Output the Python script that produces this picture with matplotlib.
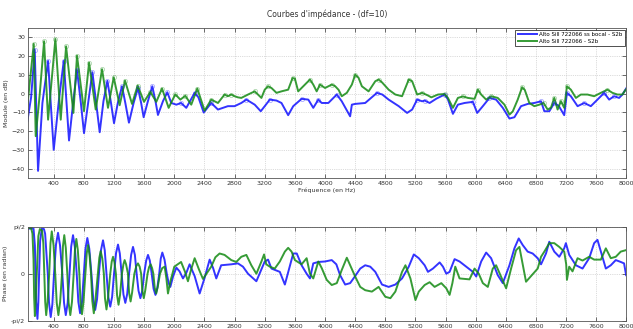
import numpy as np
import matplotlib
matplotlib.use("Agg")
import matplotlib.pyplot as plt

# module (dB) - sans bocal (blue)
freq_mod_blue = [50, 100, 148, 170, 192, 250, 325, 360, 400, 470, 533, 570, 603, 660, 709, 760, 802, 860,
                 913, 960, 1010, 1060, 1112, 1160, 1200, 1250, 1306, 1350, 1398, 1460, 1518, 1560, 1593,
                 1650, 1708, 1750, 1783, 1850, 1907, 1960, 2027, 2090, 2159, 2270, 2320, 2390, 2490,
                 2579, 2667, 2711, 2800, 2889, 2956, 3010, 3067, 3147, 3200, 3267, 3356, 3422, 3511,
                 3578, 3689, 3778, 3844, 3911, 3956, 4044, 4156, 4222, 4333, 4356, 4400, 4533, 4689,
                 4760, 4844, 4978, 5089, 5156, 5222, 5289, 5322, 5388, 5477, 5587, 5630, 5697, 5763,
                 5851, 5962, 6019, 6094, 6182, 6270, 6359, 6447, 6513, 6601, 6690, 6777, 6866, 6910,
                 6976, 7042, 7100, 7174, 7210, 7262, 7351, 7439, 7527, 7615, 7704, 7770, 7836, 7902,
                 7946, 8000]
db_blue = [-14.7, -2.0, 23.4, -10.0, -41.2, -5.0, 17.4, -5.0, -30.0, -3.0, 17.4, -5.0, -25.0, -4.0, 12.6,
           -5.0, -21.1, -4.0, 11.4, -4.0, -20.6, -4.0, 6.8, -5.0, -15.8, -5.0, 3.9, -5.0, -15.5, -5.0,
           3.0, -5.0, -12.6, -4.0, 3.9, -4.0, -11.4, -4.0, 0.7, -5.0, -5.9, -5.0, -7.6, 0.4, -2.0,
           -10.1, -5.0, -8.5, -7.3, -6.7, -6.7, -5.0, -3.2, -4.5, -5.9, -9.4, -6.7, -3.2, -3.7,
           -5.0, -11.5, -6.7, -2.8, -3.2, -7.6, -3.2, -5.0, -5.0, -0.5, -4.1, -12.1, -5.9, -5.5,
           -5.0, 0.4, -0.5, -3.2, -6.7, -10.3, -8.5, -3.2, -4.1, -3.7, -5.0, -2.7, -0.5, -3.0,
           -10.8, -5.9, -5.0, -4.4, -10.3, -6.7, -2.3, -3.2, -7.6, -13.3, -12.6, -6.7, -5.5, -5.0,
           -4.1, -9.4, -9.4, -5.0, -6.5, -11.5, 0.4, -1.4, -6.7, -5.0, -6.7, -3.2, 0.4, -3.2,
           -1.4, -2.3, -0.5, 3.0]

# module (dB) - avec bocal (green)
freq_mod_green = [50, 135, 161, 214, 272, 325, 422, 493, 564, 661, 709, 802, 869, 957, 1041, 1120,
                  1196, 1275, 1346, 1439, 1514, 1598, 1682, 1761, 1837, 1925, 2013, 2080, 2146,
                  2225, 2305, 2402, 2490, 2579, 2667, 2711, 2756, 2800, 2844, 2889, 2978, 3067,
                  3133, 3156, 3200, 3244, 3289, 3356, 3422, 3511, 3569, 3600, 3644, 3711, 3800,
                  3844, 3889, 3933, 4000, 4089, 4133, 4180, 4222, 4289, 4356, 4400, 4444, 4489,
                  4578, 4667, 4711, 4756, 4844, 4933, 5022, 5111, 5156, 5222, 5289, 5366, 5410,
                  5499, 5587, 5631, 5697, 5763, 5830, 5895, 5984, 6028, 6072, 6138, 6204, 6292,
                  6381, 6447, 6491, 6557, 6615, 6650, 6711, 6777, 6844, 6900, 6954, 6998, 7042,
                  7086, 7130, 7174, 7210, 7262, 7329, 7395, 7483, 7571, 7660, 7748, 7814, 7880,
                  7946, 7990]
db_green = [-6.7, 26.5, -22.7, -0.5, 27.9, -13.9, 29.1, -13.9, 25.2, -10.3, 20.2, -9.4, 16.5, -8.5,
            13.0, -7.6, 8.7, -6.2, 6.9, -5.5, 4.3, -4.4, 0.9, -4.4, 2.7, -7.6, -0.4, -3.2, -1.2,
            -5.9, 2.7, -9.1, -3.2, -5.0, -0.5, -1.4, -0.5, -1.4, -2.0, -2.3, -0.5, 1.2, -1.4,
            -2.3, 2.1, 3.9, 3.0, 0.4, 1.2, 2.1, 8.3, 8.0, 1.2, 3.9, 7.5, 4.8, 1.2, 4.8, 3.0, 4.8,
            4.0, 2.0, -1.4, 0.4, 4.8, 10.1, 8.5, 3.9, 1.2, 6.6, 7.5, 6.0, 2.1, -0.5, -1.4, 7.5,
            6.6, -0.5, 0.4, -1.0, -2.0, -0.5, -0.2, -2.3, -7.6, -2.3, -1.5, -2.3, -2.8, 2.1,
            -0.5, -3.2, -1.4, -2.3, -5.9, -11.2, -9.5, -3.2, 3.4, 2.0, -5.0, -6.7, -5.9, -5.0,
            -8.5, -7.5, -2.3, -8.5, -4.0, -7.6, 3.9, 2.1, -2.3, -0.5, -0.5, -1.4, 0.4, 2.1,
            0.4, -0.5, -0.5, 2.1]

# phase (in units of pi/2)
freq_ph_blue = [50, 132, 150, 158, 166, 184, 196, 206, 220, 242, 270, 286, 305, 321, 337, 360, 382,
                404, 430, 457, 484, 514, 537, 560, 585, 610, 632, 656, 680, 705, 727, 750, 775,
                800, 822, 846, 872, 900, 925, 950, 975, 1000, 1027, 1054, 1077, 1100, 1125, 1150,
                1175, 1200, 1227, 1253, 1277, 1300, 1325, 1350, 1375, 1400, 1427, 1452, 1477,
                1500, 1525, 1550, 1575, 1600, 1627, 1651, 1675, 1700, 1725, 1750, 1775, 1800,
                1820, 1841, 1870, 1900, 1925, 1947, 1985, 2027, 2070, 2115, 2160, 2203, 2270,
                2336, 2400, 2469, 2515, 2557, 2622, 2756, 2844, 2911, 2978, 3089, 3200, 3244,
                3289, 3400, 3467, 3578, 3625, 3689, 3756, 3800, 3844, 3911, 4000, 4089, 4150,
                4200, 4267, 4333, 4400, 4467, 4533, 4600, 4667, 4756, 4844, 4933, 5022, 5111,
                5178, 5244, 5322, 5366, 5432, 5521, 5565, 5609, 5653, 5719, 5785, 5873, 5962,
                6006, 6072, 6138, 6204, 6292, 6359, 6447, 6513, 6570, 6623, 6689, 6755, 6822,
                6866, 6932, 6976, 7042, 7108, 7174, 7196, 7240, 7329, 7417, 7505, 7571, 7615,
                7660, 7726, 7792, 7858, 7924, 7968, 7995]
ph_blue = [0.96, 0.96, 0.6, 0.0, -0.6, -0.96, -0.6, 0.0, 0.7, 0.96, 0.95, 0.85, 0.4, 0.0, -0.6,
           -0.92, -0.65, 0.0, 0.62, 0.87, 0.6, 0.0, -0.62, -0.88, -0.62, 0.0, 0.58, 0.82, 0.57,
           0.0, -0.6, -0.84, -0.6, 0.0, 0.54, 0.76, 0.53, 0.0, -0.55, -0.77, -0.54, 0.0, 0.5,
           0.71, 0.5, 0.0, -0.5, -0.70, -0.49, 0.0, 0.44, 0.62, 0.43, 0.0, -0.44, -0.62, -0.43,
           0.0, 0.4, 0.57, 0.4, 0.0, -0.36, -0.52, -0.36, 0.0, 0.28, 0.40, 0.28, 0.0, -0.32,
           -0.45, -0.3, 0.0, 0.32, 0.45, 0.3, 0.0, -0.2, -0.28, -0.05, 0.13, 0.05, -0.10, 0.02,
           0.2, -0.05, -0.42, -0.1, 0.3, 0.12, -0.10, 0.18, 0.2, 0.22, 0.15, 0.0, -0.16, 0.26,
           0.30, 0.11, 0.04, -0.23, 0.43, 0.43, 0.18, 0.0, -0.10, 0.22, 0.25, 0.26, 0.29, 0.2,
           -0.03, -0.23, -0.2, -0.05, 0.11, 0.18, 0.15, 0.04, -0.23, -0.28, -0.23, -0.10, 0.15,
           0.41, 0.33, 0.18, 0.04, 0.11, 0.24, 0.15, 0.0, 0.04, 0.31, 0.26, 0.15, 0.04, -0.06,
           0.26, 0.45, 0.33, -0.03, -0.2, 0.18, 0.54, 0.75, 0.61, 0.47, 0.43, 0.33, 0.2, 0.43,
           0.68, 0.47, 0.36, 0.54, 0.65, 0.4, 0.18, 0.11, 0.33, 0.65, 0.72, 0.47, 0.11, 0.18,
           0.29, 0.25, 0.22, -0.03]

freq_ph_green = [50, 100, 118, 132, 140, 150, 162, 180, 196, 216, 245, 262, 275, 287, 300, 318, 340,
                 357, 374, 398, 420, 440, 462, 485, 510, 522, 540, 560, 580, 598, 620, 642, 665,
                 682, 700, 720, 740, 755, 775, 795, 820, 838, 855, 875, 895, 912, 932, 952, 985,
                 1005, 1023, 1045, 1065, 1080, 1100, 1120, 1150, 1170, 1187, 1205, 1225, 1240,
                 1260, 1280, 1305, 1325, 1341, 1360, 1385, 1400, 1420, 1440, 1470, 1495, 1518,
                 1540, 1560, 1575, 1595, 1615, 1645, 1665, 1686, 1705, 1722, 1740, 1760, 1780,
                 1810, 1840, 1872, 1895, 1916, 1950, 2000, 2090, 2140, 2181, 2225, 2270, 2325,
                 2380, 2435, 2490, 2545, 2601, 2667, 2756, 2822, 2889, 2956, 3022, 3089, 3156,
                 3191, 3220, 3267, 3333, 3400, 3467, 3511, 3556, 3600, 3689, 3756, 3800, 3844,
                 3911, 3956, 4022, 4089, 4156, 4222, 4289, 4356, 4400, 4467, 4533, 4622, 4711,
                 4800, 4867, 4933, 5022, 5067, 5133, 5200, 5244, 5322, 5388, 5454, 5543, 5609,
                 5653, 5690, 5728, 5785, 5917, 5984, 6040, 6094, 6160, 6226, 6270, 6359, 6403,
                 6469, 6535, 6579, 6623, 6667, 6733, 6822, 6866, 6910, 6976, 7042, 7108, 7174,
                 7200, 7210, 7240, 7284, 7351, 7417, 7505, 7571, 7660, 7726, 7792, 7858, 7924,
                 7990]
ph_green = [0.97, 0.97, 0.85, 0.3, -0.5, -0.9, -0.5, 0.2, 0.8, 0.95, 0.92, 0.65, 0.0, -0.6, -0.88,
            -0.6, 0.0, 0.65, 0.9, 0.6, 0.0, -0.62, -0.88, -0.6, 0.0, 0.58, 0.82, 0.55, 0.0, -0.62,
            -0.88, -0.6, 0.0, 0.52, 0.74, 0.5, 0.0, -0.6, -0.86, -0.6, 0.0, 0.43, 0.61, 0.4, 0.0,
            -0.58, -0.84, -0.58, 0.0, 0.34, 0.48, 0.32, 0.0, -0.52, -0.76, -0.52, 0.0, 0.26,
            0.36, 0.25, 0.0, -0.45, -0.66, -0.45, 0.0, 0.2, 0.29, 0.2, 0.0, -0.4, -0.59, -0.4,
            0.0, 0.16, 0.22, 0.15, 0.0, -0.35, -0.52, -0.35, 0.0, 0.14, 0.2, 0.12, 0.0, -0.3,
            -0.42, -0.28, 0.0, 0.12, 0.15, -0.1, -0.42, -0.15, 0.15, 0.25, 0.05, -0.16, 0.1,
            0.33, 0.1, -0.11, 0.02, 0.15, 0.35, 0.43, 0.40, 0.29, 0.25, 0.36, 0.40, 0.18, 0.0,
            0.26, 0.41, 0.2, 0.15, 0.11, 0.26, 0.47, 0.55, 0.47, 0.29, 0.2, 0.33, 0.0, -0.10,
            0.26, 0.12, -0.13, -0.24, -0.2, 0.08, 0.34, 0.1, -0.06, -0.28, -0.35, -0.38, -0.28,
            -0.49, -0.52, -0.38, 0.04, 0.18, -0.10, -0.56, -0.38, -0.24, -0.18, -0.28, -0.2,
            -0.31, -0.45, -0.2, 0.15, -0.1, -0.12, 0.11, 0.0, -0.2, -0.28, 0.11, 0.18, -0.15,
            -0.31, 0.11, 0.5, 0.57, 0.2, -0.17, -0.05, 0.11, 0.36, 0.47, 0.65, 0.65, 0.57,
            0.47, 0.2, -0.13, 0.15, 0.05, 0.33, 0.28, 0.36, 0.30, 0.30, 0.54, 0.33, 0.36,
            0.47, 0.5]

freq_ticks = list(range(400, 8001, 400))
db_ticks = [-40, -30, -20, -10, 0, 10, 20, 30]

label_blue = "Alto Sill 722066 ss bocal - S2b"
label_green = "Alto Sill 722066 - S2b"
c_blue = "#1010ff"
c_green = "#138a13"
txt = "#333333"


def style_axes(ax):
    ax.tick_params(direction="in", top=True, right=True, length=3, width=0.5,
                   labelsize=4.5, colors=txt, pad=2)
    for s in ax.spines.values():
        s.set_linewidth(0.6)
        s.set_color("#555555")
    ax.grid(True, linestyle=":", linewidth=0.5, color="#bbbbbb")
    ax.set_axisbelow(True)


def local_peaks(f, v):
    f = np.asarray(f)
    v = np.asarray(v)
    idx = [i for i in range(1, len(v) - 1) if v[i] > v[i - 1] and v[i] > v[i + 1]]
    return f[idx], v[idx]


fig = plt.figure(figsize=(6.33, 3.29), dpi=100)
ax1 = fig.add_axes([0.0438, 0.459, 0.9459, 0.456])
ax2 = fig.add_axes([0.0438, 0.025, 0.9459, 0.286])

ax1.plot(freq_mod_blue, db_blue, color=c_blue, lw=1.4, alpha=0.85, label=label_blue)
ax1.plot(freq_mod_green, db_green, color=c_green, lw=1.4, alpha=0.85, label=label_green)
pf, pv = local_peaks(freq_mod_blue, db_blue)
ax1.plot(pf, pv, "o", ms=3, mfc="none", mec=c_blue, mew=0.6, alpha=0.35)
pf, pv = local_peaks(freq_mod_green, db_green)
ax1.plot(pf, pv, "o", ms=3, mfc="none", mec=c_green, mew=0.6, alpha=0.35)

ax1.set_xlim(55, 8000)
ax1.set_ylim(-45, 35)
ax1.set_xticks(freq_ticks)
ax1.set_yticks(db_ticks)
ax1.set_xlabel("Fréquence (en Hz)", fontsize=4.5, color=txt, labelpad=1)
ax1.set_ylabel("Module (en dB)", fontsize=4.5, color=txt, labelpad=2)
ax1.set_title("Courbes d'impédance - (df=10)", fontsize=5.5, color=txt, pad=8)
style_axes(ax1)
leg = ax1.legend(loc="upper right", fontsize=4, fancybox=False, framealpha=1,
                 edgecolor="#333333", borderpad=0.4, handlelength=3.5, handletextpad=0.4,
                 labelspacing=0.3, borderaxespad=0.3)
leg.get_frame().set_linewidth(0.6)

ax2.plot(freq_ph_blue, np.array(ph_blue) * np.pi / 2, color=c_blue, lw=1.4, alpha=0.85)
ax2.plot(freq_ph_green, np.array(ph_green) * np.pi / 2, color=c_green, lw=1.4, alpha=0.85)
ax2.set_xlim(55, 8000)
ax2.set_ylim(-np.pi / 2, np.pi / 2)
ax2.set_xticks(freq_ticks)
ax2.set_yticks([-np.pi / 2, 0, np.pi / 2])
ax2.set_yticklabels(["-pi/2", "0", "pi/2"])
ax2.set_ylabel("Phase (en radian)", fontsize=4.5, color=txt, labelpad=2)
style_axes(ax2)

fig.savefig("out.png", dpi=100)
